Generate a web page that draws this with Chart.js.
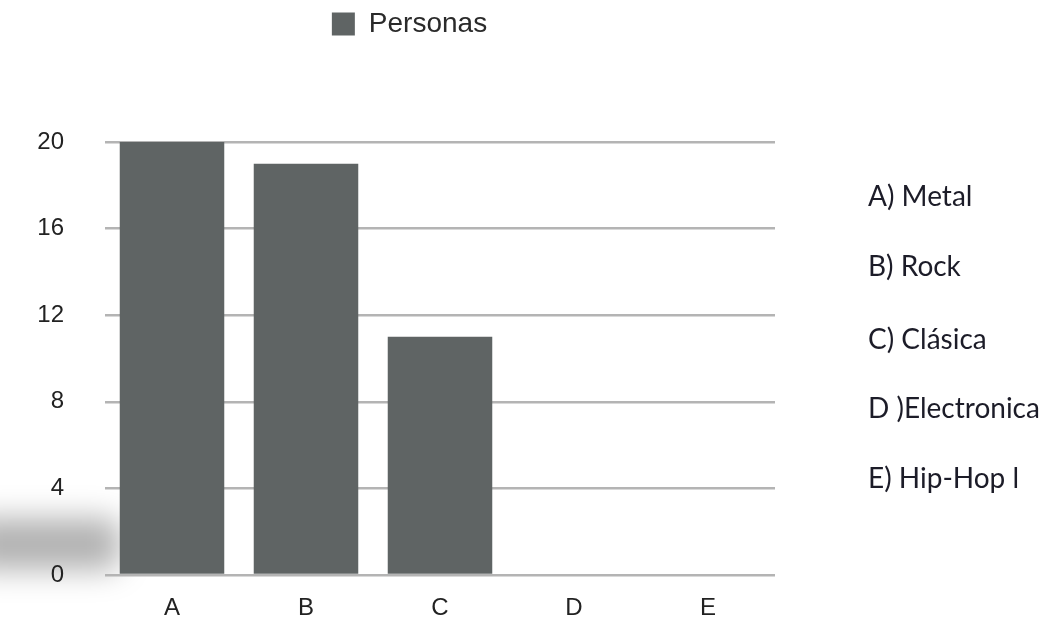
<!DOCTYPE html>
<html>
<head>
<meta charset="utf-8">
<script src="https://cdn.jsdelivr.net/npm/chart.js@4.4.0/dist/chart.umd.min.js"></script>
<style>
  html,body{margin:0;padding:0;background:#fff;}
  #wrap{position:relative;width:1050px;height:635px;overflow:hidden;}
  #shadow{position:absolute;left:-30px;top:518px;width:150px;height:52px;background:rgba(0,0,0,0.30);filter:blur(15px);border-radius:12px;}
  #c{position:absolute;left:0;top:0;}
  #side{position:absolute;left:868px;top:0;font-family:Lato,"Open Sans",sans-serif;font-size:28px;color:#1c1c28;}
  #side div{position:absolute;left:0;white-space:nowrap;transform:translateY(-50%);}
</style>
</head>
<body>
<div id="wrap">
  <div id="shadow"></div>
  <canvas id="c" width="1050" height="635"></canvas>
  <div id="side"></div>
</div>
<script>
const categories = ["A", "B", "C", "D", "E"];
const personas = [20, 19, 11, 0, 0];
const yTicks = [0, 4, 8, 12, 16, 20];
const sideLabels = ["A) Metal", "B) Rock", "C) Clásica", "D )Electronica", "E) Hip-Hop l"];
const seriesName = "Personas";

const side = document.getElementById('side');
const sideY = [195, 265, 338, 407, 477];
sideLabels.forEach((t, i) => {
  const d = document.createElement('div');
  d.textContent = t;
  d.style.top = sideY[i] + 'px';
  side.appendChild(d);
});

const legendPad = {
  id: 'legendPad',
  beforeInit(chart) {
    const orig = chart.legend.fit;
    chart.legend.fit = function () {
      orig.call(this);
      this.height += 94;
    };
  },
  afterLayout(chart) {
    chart.legend.left += 22;
    chart.legend.right += 22;
  }
};

const axisFont = { family: '"Liberation Sans", Arial, sans-serif', size: 24 };

new Chart(document.getElementById('c'), {
  type: 'bar',
  data: {
    labels: categories,
    datasets: [{
      label: seriesName,
      data: personas,
      backgroundColor: '#5f6464',
      borderWidth: 0,
      barPercentage: 0.78,
      categoryPercentage: 1.0
    }]
  },
  options: {
    responsive: false,
    animation: false,
    layout: { padding: { left: 0, right: 275, top: 0, bottom: 0 } },
    plugins: {
      legend: {
        display: true,
        position: 'top',
        align: 'center',
        labels: {
          boxWidth: 23,
          boxHeight: 23,
          color: '#2a2a2a',
          padding: 10,
          font: { family: '"Liberation Sans", Arial, sans-serif', size: 28 }
        }
      },
      tooltip: { enabled: false }
    },
    scales: {
      x: {
        afterFit(scale) { scale.height = 60; },
        grid: { display: false, drawTicks: false },
        border: { display: false },
        ticks: { color: '#222', padding: 19, font: axisFont }
      },
      y: {
        min: 0,
        max: 20,
        afterFit(scale) { scale.width = 105; },
        afterBuildTicks(scale) { scale.ticks = yTicks.map(v => ({ value: v })); },
        grid: { color: '#b4b4b4', lineWidth: 2.5, drawTicks: false },
        border: { display: false },
        ticks: { color: '#222', padding: 41, font: axisFont }
      }
    }
  },
  plugins: [legendPad]
});
</script>
</body>
</html>
